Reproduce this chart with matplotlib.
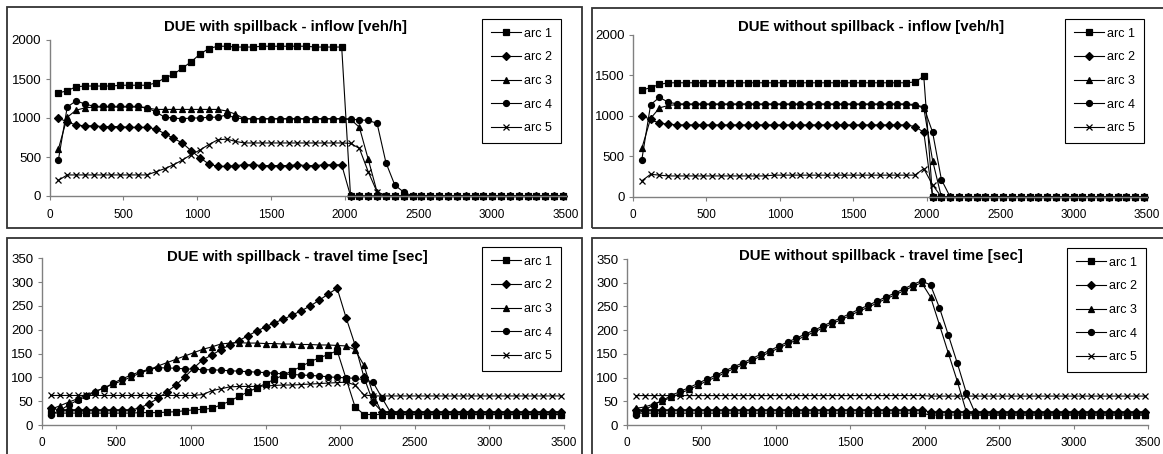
import matplotlib
matplotlib.use('Agg')
import matplotlib.pyplot as plt
from matplotlib.lines import Line2D
from matplotlib.patches import Rectangle

plt.rcParams['font.family'] = ['Liberation Sans', 'DejaVu Sans']

# time of each sample [sec]
time_s = [60, 120, 180, 240, 300, 360, 420, 480, 540, 600,
          660, 720, 780, 840, 900, 960, 1020, 1080, 1140, 1200,
          1260, 1320, 1380, 1440, 1500, 1560, 1620, 1680, 1740, 1800,
          1860, 1920, 1980, 2040, 2100, 2160, 2220, 2280, 2340, 2400,
          2460, 2520, 2580, 2640, 2700, 2760, 2820, 2880, 2940, 3000,
          3060, 3120, 3180, 3240, 3300, 3360, 3420, 3480]

arc_labels = ['arc 1', 'arc 2', 'arc 3', 'arc 4', 'arc 5']

# DUE with spillback - inflow [veh/h]
in_sb_1 = [1320, 1350, 1400, 1410, 1410, 1410, 1410, 1420, 1420, 1420,
           1420, 1450, 1510, 1560, 1640, 1720, 1820, 1890, 1920, 1920,
           1910, 1910, 1910, 1920, 1920, 1920, 1920, 1920, 1920, 1910,
           1910, 1910, 1910, 0, 0, 0, 0, 0, 0, 0,
           0, 0, 0, 0, 0, 0, 0, 0, 0, 0,
           0, 0, 0, 0, 0, 0, 0, 0]
in_sb_2 = [1000, 950, 910, 900, 900, 890, 890, 890, 880, 880,
           880, 860, 800, 740, 680, 580, 490, 410, 380, 380,
           390, 400, 400, 390, 390, 390, 390, 400, 390, 390,
           400, 400, 400, 0, 0, 0, 0, 0, 0, 0,
           0, 0, 0, 0, 0, 0, 0, 0, 0, 0,
           0, 0, 0, 0, 0, 0, 0, 0]
in_sb_3 = [600, 1010, 1100, 1130, 1140, 1140, 1140, 1140, 1140, 1140,
           1130, 1110, 1110, 1110, 1110, 1110, 1110, 1110, 1110, 1090,
           1050, 990, 990, 990, 990, 990, 990, 990, 990, 990,
           990, 990, 990, 985, 880, 470, 50, 10, 0, 0,
           0, 0, 0, 0, 0, 0, 0, 0, 0, 0,
           0, 0, 0, 0, 0, 0, 0, 0]
in_sb_4 = [460, 1140, 1220, 1180, 1150, 1150, 1150, 1150, 1150, 1150,
           1130, 1080, 1010, 1000, 990, 1000, 1000, 1010, 1010, 1040,
           1000, 990, 990, 990, 990, 990, 990, 990, 990, 990,
           990, 990, 990, 985, 975, 970, 930, 427, 140, 50,
           0, 0, 0, 0, 0, 0, 0, 0, 0, 0,
           0, 0, 0, 0, 0, 0, 0, 0]
in_sb_5 = [200, 270, 270, 270, 270, 270, 270, 270, 270, 270,
           270, 310, 350, 400, 460, 530, 590, 660, 720, 730,
           700, 680, 680, 680, 680, 680, 680, 680, 680, 680,
           680, 680, 680, 675, 610, 310, 50, 0, 0, 0,
           0, 0, 0, 0, 0, 0, 0, 0, 0, 0,
           0, 0, 0, 0, 0, 0, 0, 0]

# DUE without spillback - inflow [veh/h]
in_nsb_1 = [1320, 1350, 1390, 1410, 1410, 1410, 1410, 1410, 1410, 1410,
            1410, 1410, 1410, 1410, 1410, 1410, 1410, 1410, 1410, 1410,
            1410, 1410, 1410, 1410, 1410, 1410, 1410, 1410, 1410, 1410,
            1410, 1420, 1490, 0, 0, 0, 0, 0, 0, 0,
            0, 0, 0, 0, 0, 0, 0, 0, 0, 0,
            0, 0, 0, 0, 0, 0, 0, 0]
in_nsb_2 = [1000, 960, 910, 900, 890, 890, 890, 890, 890, 890,
            890, 890, 890, 890, 890, 890, 890, 890, 890, 890,
            890, 890, 890, 890, 890, 890, 890, 890, 890, 890,
            890, 870, 800, 0, 0, 0, 0, 0, 0, 0,
            0, 0, 0, 0, 0, 0, 0, 0, 0, 0,
            0, 0, 0, 0, 0, 0, 0, 0]
in_nsb_3 = [600, 970, 1100, 1130, 1140, 1140, 1140, 1140, 1140, 1140,
            1140, 1140, 1140, 1140, 1140, 1140, 1140, 1140, 1140, 1140,
            1140, 1140, 1140, 1140, 1140, 1140, 1140, 1140, 1140, 1140,
            1140, 1130, 1100, 450, 0, 0, 0, 0, 0, 0,
            0, 0, 0, 0, 0, 0, 0, 0, 0, 0,
            0, 0, 0, 0, 0, 0, 0, 0]
in_nsb_4 = [460, 1140, 1230, 1170, 1150, 1150, 1150, 1150, 1150, 1150,
            1150, 1150, 1150, 1150, 1150, 1150, 1150, 1150, 1150, 1150,
            1150, 1150, 1150, 1150, 1150, 1150, 1150, 1150, 1150, 1150,
            1150, 1140, 1110, 800, 215, 0, 0, 0, 0, 0,
            0, 0, 0, 0, 0, 0, 0, 0, 0, 0,
            0, 0, 0, 0, 0, 0, 0, 0]
in_nsb_5 = [200, 280, 270, 260, 260, 260, 260, 260, 260, 260,
            260, 260, 260, 260, 260, 270, 270, 270, 270, 270,
            270, 270, 270, 270, 270, 270, 270, 270, 270, 270,
            270, 270, 350, 150, 0, 0, 0, 0, 0, 0,
            0, 0, 0, 0, 0, 0, 0, 0, 0, 0,
            0, 0, 0, 0, 0, 0, 0, 0]

# DUE with spillback - travel time [sec]
tt_sb_1 = [25, 25, 25, 25, 25, 25, 25, 25, 25, 25,
           26, 26, 26, 27, 28, 30, 32, 33, 35, 42,
           50, 60, 69, 78, 87, 96, 105, 114, 123, 133,
           141, 148, 156, 97, 38, 22, 22, 22, 22, 22,
           22, 22, 22, 22, 22, 22, 22, 22, 22, 22,
           22, 22, 22, 22, 22, 22, 22, 22]
tt_sb_2 = [35, 32, 32, 32, 32, 32, 32, 32, 32, 32,
           36, 45, 56, 70, 84, 101, 120, 137, 147, 158,
           168, 177, 187, 197, 206, 215, 222, 231, 240, 250,
           262, 275, 287, 225, 168, 100, 48, 28, 28, 28,
           28, 28, 28, 28, 28, 28, 28, 28, 28, 28,
           28, 28, 28, 28, 28, 28, 28, 28]
tt_sb_3 = [33, 40, 48, 55, 63, 71, 78, 86, 93, 101,
           109, 116, 124, 131, 138, 145, 152, 159, 164, 170,
           172, 173, 172, 172, 171, 171, 170, 170, 169, 169,
           168, 168, 167, 166, 158, 125, 65, 25, 25, 25,
           25, 25, 25, 25, 25, 25, 25, 25, 25, 25,
           25, 25, 25, 25, 25, 25, 25, 25]
tt_sb_4 = [22, 30, 42, 52, 60, 70, 78, 88, 97, 105,
           112, 117, 120, 120, 119, 118, 117, 116, 116, 115,
           114, 113, 112, 111, 110, 109, 107, 106, 105, 104,
           103, 101, 100, 99, 98, 95, 90, 57, 25, 22,
           22, 22, 22, 22, 22, 22, 22, 22, 22, 22,
           22, 22, 22, 22, 22, 22, 22, 22]
tt_sb_5 = [62, 62, 62, 62, 62, 62, 62, 62, 62, 62,
           62, 62, 62, 62, 62, 62, 62, 64, 72, 76,
           80, 81, 81, 81, 82, 83, 84, 84, 85, 86,
           87, 88, 89, 90, 84, 63, 61, 61, 61, 61,
           61, 61, 61, 61, 61, 61, 61, 61, 61, 61,
           61, 61, 61, 61, 61, 61, 61, 61]

# DUE without spillback - travel time [sec]
tt_nsb_1 = [25, 25, 25, 25, 25, 25, 25, 25, 25, 25,
            25, 25, 25, 25, 25, 25, 25, 25, 25, 25,
            25, 25, 25, 25, 25, 25, 25, 25, 25, 25,
            25, 25, 25, 21, 21, 21, 21, 21, 21, 21,
            21, 21, 21, 21, 21, 21, 21, 21, 21, 21,
            21, 21, 21, 21, 21, 21, 21, 21]
tt_nsb_2 = [32, 32, 32, 32, 32, 32, 32, 32, 32, 32,
            32, 32, 32, 32, 32, 32, 32, 32, 32, 32,
            32, 32, 32, 32, 32, 32, 32, 32, 32, 32,
            32, 32, 32, 27, 28, 28, 28, 28, 28, 28,
            28, 28, 28, 28, 28, 28, 28, 28, 28, 28,
            28, 28, 28, 28, 28, 28, 28, 28]
tt_nsb_3 = [35, 38, 44, 51, 58, 67, 75, 84, 93, 101,
            110, 119, 127, 136, 145, 153, 162, 171, 179, 188,
            196, 205, 214, 222, 231, 240, 248, 257, 266, 274,
            283, 292, 300, 270, 211, 151, 92, 28, 21, 21,
            21, 21, 21, 21, 21, 21, 21, 21, 21, 21,
            21, 21, 21, 21, 21, 21, 21, 21]
tt_nsb_4 = [22, 32, 42, 52, 62, 71, 79, 88, 97, 105,
            114, 123, 131, 140, 149, 157, 166, 175, 183, 192,
            200, 209, 218, 226, 235, 244, 252, 261, 270, 278,
            287, 296, 304, 295, 247, 189, 130, 68, 25, 25,
            25, 25, 25, 25, 25, 25, 25, 25, 25, 25,
            25, 25, 25, 25, 25, 25, 25, 25]
tt_nsb_5 = [62, 62, 62, 62, 62, 62, 62, 62, 62, 62,
            62, 62, 62, 62, 62, 62, 62, 62, 62, 62,
            62, 62, 62, 62, 62, 62, 62, 62, 62, 62,
            62, 62, 62, 61, 61, 61, 61, 61, 61, 61,
            61, 61, 61, 61, 61, 61, 61, 61, 61, 61,
            61, 61, 61, 61, 61, 61, 61, 61]

markers = [('s', 3.8), ('D', 3.6), ('^', 4.6), ('o', 4.3), ('x', 4.6)]

W, H = 1163, 454
fig = plt.figure(figsize=(W / 100, H / 100), dpi=100)


def add_panel(box, series, ymax, ystep, title, title_xy, legend_xy):
    left, top, right, bottom = box
    ax = fig.add_axes([left / W, 1 - bottom / H, (right - left) / W, (bottom - top) / H])
    ax.set_facecolor('none')
    for (m, ms), ys in zip(markers, series):
        ax.plot(time_s, ys, color='black', lw=0.8, marker=m, ms=ms,
                mec='black', mfc='black', mew=0.9, clip_on=False)
    ax.set_xlim(0, 3500)
    ax.set_ylim(0, ymax)
    ax.set_xticks(range(0, 3501, 500))
    ax.set_yticks(range(0, ymax + 1, ystep))
    for s in ['top', 'right']:
        ax.spines[s].set_visible(False)
    for s in ['left', 'bottom']:
        ax.spines[s].set_color('#808080')
        ax.spines[s].set_linewidth(1.0)
    ax.tick_params(axis='both', direction='out', length=3, width=0.8,
                   color='#808080', labelcolor='black')
    ax.tick_params(axis='y', pad=3, labelsize=9.5)
    ax.tick_params(axis='x', pad=6, labelsize=8.5)
    fig.text(title_xy[0] / W, 1 - title_xy[1] / H, title, ha='center', va='center',
             fontsize=10.8, fontweight='bold')
    handles = [Line2D([], [], color='black', lw=0.8, marker=m, ms=ms, mfc='black',
                      mec='black', mew=0.9) for m, ms in markers]
    leg = ax.legend(handles, arc_labels, loc='upper left',
                    bbox_to_anchor=(legend_xy[0] / W, 1 - legend_xy[1] / H),
                    bbox_transform=fig.transFigure, fontsize=9, frameon=True,
                    fancybox=False, edgecolor='black', framealpha=1,
                    handlelength=2.4, handletextpad=0.25, labelspacing=0.93,
                    borderpad=0.7, borderaxespad=0)
    leg.get_frame().set_linewidth(0.8)
    return ax


add_panel((49.5, 40, 566, 196), [in_sb_1, in_sb_2, in_sb_3, in_sb_4, in_sb_5],
          2000, 500, 'DUE with spillback - inflow [veh/h]', (285, 27), (482, 19))
add_panel((633, 35, 1147, 197), [in_nsb_1, in_nsb_2, in_nsb_3, in_nsb_4, in_nsb_5],
          2000, 500, 'DUE without spillback - inflow [veh/h]', (871, 27), (1065, 19))
add_panel((41.7, 258.3, 564, 425), [tt_sb_1, tt_sb_2, tt_sb_3, tt_sb_4, tt_sb_5],
          350, 50, 'DUE with spillback - travel time [sec]', (297, 257), (482, 247))
add_panel((626.7, 259, 1148, 425), [tt_nsb_1, tt_nsb_2, tt_nsb_3, tt_nsb_4, tt_nsb_5],
          350, 50, 'DUE without spillback - travel time [sec]', (881, 256), (1067, 248))

# chart frames
for x0, y0, x1, y1 in [(7, 7, 582, 228), (592, 8, 1175, 228),
                       (7, 238, 582, 465), (592, 238, 1175, 465)]:
    fig.add_artist(Rectangle((x0 / W, 1 - y1 / H), (x1 - x0) / W, (y1 - y0) / H,
                             transform=fig.transFigure, fill=False,
                             edgecolor='#333333', lw=1.3))

fig.savefig('out.png', dpi=100)
